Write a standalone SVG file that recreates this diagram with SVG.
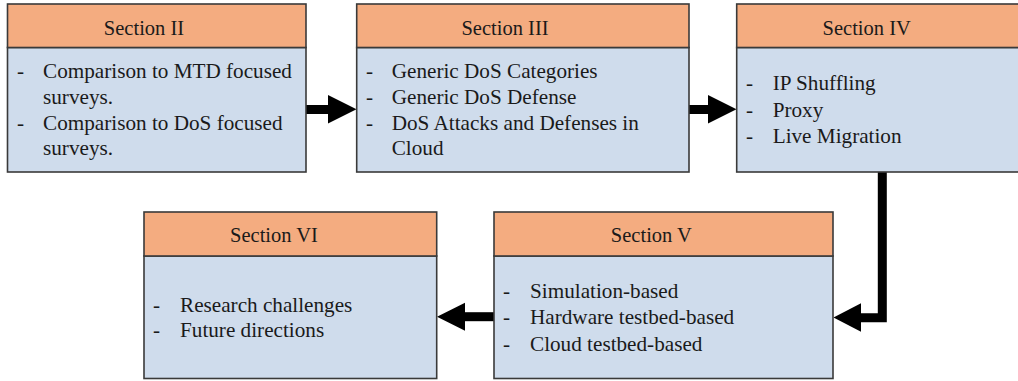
<svg xmlns="http://www.w3.org/2000/svg" width="1018" height="381" viewBox="0 0 1018 381">
<style>
.hd{fill:#F4AC80;stroke:#3a3a3a;stroke-width:1.6}
.bd{fill:#CFDCEC;stroke:#3a3a3a;stroke-width:1.6}
.t{font-family:"Liberation Serif","Times New Roman",serif;font-size:21.2px;fill:#1a1a1a}
.h{font-family:"Liberation Serif","Times New Roman",serif;font-size:20.5px;fill:#1a1a1a;text-anchor:middle}
.ln{fill:none;stroke:#000;stroke-width:9}
.ah{fill:#000}
</style>
<rect width="1018" height="381" fill="#fff"/>
<g id="connectors">
<path class="ln" d="M306,109.5 H330"/>
<polygon class="ah" points="328,95 356.5,109.3 328,123.5"/>
<path class="ln" d="M689,109.5 H710"/>
<polygon class="ah" points="708,95 736.5,109.3 708,123.5"/>
<path class="ln" d="M882.3,172 V317.8 H858"/>
<polygon class="ah" points="861,303.3 833.5,317.5 861,331.7"/>
<path class="ln" d="M494,316.7 H463"/>
<polygon class="ah" points="465,302.7 437,316.7 465,330.7"/>
</g>
<g id="section2">
<rect class="bd" x="7.5" y="47.5" width="298.5" height="124.5"/>
<rect class="hd" x="7.5" y="4" width="298.5" height="43.5"/>
<text class="h" x="144" y="35">Section II</text>
<text class="t" x="17" y="78">-</text>
<text class="t" x="43" y="78">Comparison to MTD focused</text>
<text class="t" x="43" y="103.5">surveys.</text>
<text class="t" x="17" y="130">-</text>
<text class="t" x="43" y="130">Comparison to DoS focused</text>
<text class="t" x="43" y="155">surveys.</text>
</g>
<g id="section3">
<rect class="bd" x="356.7" y="47.5" width="332.3" height="124.5"/>
<rect class="hd" x="356.7" y="4" width="332.3" height="43.5"/>
<text class="h" x="505" y="35">Section III</text>
<text class="t" x="366" y="78">-</text>
<text class="t" x="391.7" y="78">Generic DoS Categories</text>
<text class="t" x="366" y="103.5">-</text>
<text class="t" x="391.7" y="103.5">Generic DoS Defense</text>
<text class="t" x="366" y="130">-</text>
<text class="t" x="391.7" y="130">DoS Attacks and Defenses in</text>
<text class="t" x="391.7" y="155">Cloud</text>
</g>
<g id="section4">
<rect class="bd" x="736.7" y="47.5" width="284" height="124.5"/>
<rect class="hd" x="736.7" y="4" width="284" height="43.5"/>
<text class="h" x="866.7" y="35">Section IV</text>
<text class="t" x="746" y="90">-</text>
<text class="t" x="772.7" y="90">IP Shuffling</text>
<text class="t" x="746" y="116.5">-</text>
<text class="t" x="772.7" y="116.5">Proxy</text>
<text class="t" x="746" y="142.7">-</text>
<text class="t" x="772.7" y="142.7">Live Migration</text>
</g>
<g id="section5">
<rect class="bd" x="494" y="256" width="339" height="122.5"/>
<rect class="hd" x="494" y="212" width="339" height="44"/>
<text class="h" x="651.4" y="242.3">Section V</text>
<text class="t" x="503" y="298.3">-</text>
<text class="t" x="530" y="298.3">Simulation-based</text>
<text class="t" x="503" y="324.3">-</text>
<text class="t" x="530" y="324.3">Hardware testbed-based</text>
<text class="t" x="503" y="350.5">-</text>
<text class="t" x="530" y="350.5">Cloud testbed-based</text>
</g>
<g id="section6">
<rect class="bd" x="144" y="256" width="292.7" height="122.5"/>
<rect class="hd" x="144" y="212" width="292.7" height="44"/>
<text class="h" x="274" y="242.3">Section VI</text>
<text class="t" x="153" y="311.7">-</text>
<text class="t" x="180" y="311.7">Research challenges</text>
<text class="t" x="153" y="337.3">-</text>
<text class="t" x="180" y="337.3">Future directions</text>
</g>
</svg>
